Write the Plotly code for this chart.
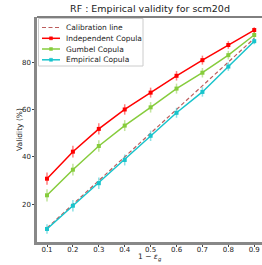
import plotly.graph_objects as go

x_vals = [0.1, 0.2, 0.3, 0.4, 0.5, 0.6, 0.7, 0.8, 0.9]
calib = [10, 20, 30, 40, 50, 60, 70, 80, 90]
independent = [30.8, 42.2, 51.8, 60.0, 67.1, 74.2, 80.8, 87.2, 93.5]
gumbel = [23.8, 34.6, 44.6, 53.2, 60.9, 68.8, 75.5, 82.9, 91.4]
empirical = [9.6, 19.4, 28.9, 38.7, 48.9, 58.6, 67.4, 78.1, 88.8]
err_ind = [2.6, 2.5, 2.4, 2.2, 2.1, 2.0, 1.9, 1.6, 1.2]
err_gum = [2.6, 2.5, 2.4, 2.3, 2.2, 2.1, 2.0, 1.8, 1.3]
err_emp = [2.0, 2.4, 2.4, 2.3, 2.2, 2.1, 2.0, 1.8, 1.3]
x_ticks = [0.1, 0.2, 0.3, 0.4, 0.5, 0.6, 0.7, 0.8, 0.9]
y_ticks = [20, 40, 60, 80]
series_names = ["Calibration line", "Independent Copula", "Gumbel Copula", "Empirical Copula"]

FONT = "DejaVu Sans"
W, H = 262, 265
L, R, T, B = 37, 0, 17, 23
PW, PH = W - L - R, H - T - B


def xp(px):
    return (px - L) / PW


def yp(py):
    return (H - B - py) / PH


CAL_COLOR = "rgba(176,64,64,0.85)"
COLORS = ["#ff0000", "#86cc3c", "#18c4cc"]
ECOLORS = ["rgba(255,0,0,0.5)", "rgba(134,204,60,0.5)", "rgba(24,196,204,0.5)"]

fig = go.Figure()
fig.add_trace(go.Scatter(x=x_vals, y=calib, mode="lines", name=series_names[0], showlegend=False,
                         line=dict(color=CAL_COLOR, width=1.2, dash="4px,2.5px")))

for y, err, c, ec, name in zip([independent, gumbel, empirical], [err_ind, err_gum, err_emp],
                               COLORS, ECOLORS, series_names[1:]):
    fig.add_trace(go.Scatter(
        x=x_vals, y=y, mode="lines+markers", name=name, showlegend=False,
        line=dict(color=c, width=1.5),
        marker=dict(symbol="square", size=4, color=c),
        error_y=dict(type="data", array=err, visible=True, color=ec, thickness=1.5, width=0),
    ))

shapes = []
annotations = []
# top spine
shapes.append(dict(type="line", xref="paper", yref="paper", x0=0, x1=1, y0=1, y1=1,
                   line=dict(color="black", width=1)))
# legend box
shapes.append(dict(type="rect", xref="paper", yref="paper", x0=xp(38.5), x1=xp(143), y0=yp(18.5), y1=yp(66),
                   fillcolor="rgba(255,255,255,0.85)", line=dict(color="#cccccc", width=1), layer="above"))
row_y = [27.5, 38.3, 49, 59.8]
for i, name in enumerate(series_names):
    ypos = yp(row_y[i])
    if i == 0:
        shapes.append(dict(type="line", xref="paper", yref="paper", x0=xp(42), x1=xp(60), y0=ypos, y1=ypos,
                           line=dict(color=CAL_COLOR, width=1.2, dash="4px,2.5px"), layer="above"))
    else:
        c = COLORS[i - 1]
        shapes.append(dict(type="line", xref="paper", yref="paper", x0=xp(42), x1=xp(60), y0=ypos, y1=ypos,
                           line=dict(color=c, width=1.5), layer="above"))
        shapes.append(dict(type="rect", xref="paper", yref="paper", x0=xp(49.5), x1=xp(52.5),
                           y0=yp(row_y[i] + 1.5), y1=yp(row_y[i] - 1.5),
                           fillcolor=c, line=dict(color=c, width=0.5), layer="above"))
    annotations.append(dict(text=name, xref="paper", yref="paper", x=xp(64), y=ypos,
                            xanchor="left", yanchor="middle", showarrow=False,
                            font=dict(family=FONT, size=7.5, color="#222")))

# axis titles
annotations.append(dict(text="1 − <i>ε</i><sub><i>g</i></sub>", xref="paper", yref="paper",
                        x=xp(150), y=yp(257.5), xanchor="center", yanchor="middle", showarrow=False,
                        font=dict(family=FONT, size=7.5, color="#222")))
annotations.append(dict(text="Validity (%)", xref="paper", yref="paper", textangle=-90,
                        x=xp(19), y=yp(130), xanchor="center", yanchor="middle", showarrow=False,
                        font=dict(family=FONT, size=7.5, color="#222")))

fig.update_layout(
    width=W, height=H,
    margin=dict(l=L, r=R, t=T, b=B),
    paper_bgcolor="white", plot_bgcolor="white",
    font=dict(family=FONT, size=7, color="#222"),
    title=dict(text="RF : Empirical validity for scm20d", x=150 / W, xanchor="center",
               y=1 - 9 / H, yanchor="middle", font=dict(size=9.5, color="#222")),
    showlegend=False,
    shapes=shapes,
    annotations=annotations,
    xaxis=dict(range=[0.0614, 0.930], tickvals=x_ticks, ticktext=[f"{v:.1f}" for v in x_ticks],
               showgrid=False, zeroline=False, showline=True, linecolor="#888", linewidth=2.5,
               ticks="outside", ticklen=2, tickcolor="#444", tickfont=dict(size=7), automargin=False,
               ticklabelstandoff=-3),
    yaxis=dict(range=[4.1, 99.0], tickvals=y_ticks, showgrid=False, zeroline=False,
               showline=True, linecolor="#888", linewidth=2.5,
               ticks="outside", ticklen=2, tickcolor="#444", tickfont=dict(size=7), automargin=False),
)

fig.write_html("out.html", config={"displayModeBar": False},
               post_script="document.body.style.margin='0';document.body.style.overflow='hidden';")
